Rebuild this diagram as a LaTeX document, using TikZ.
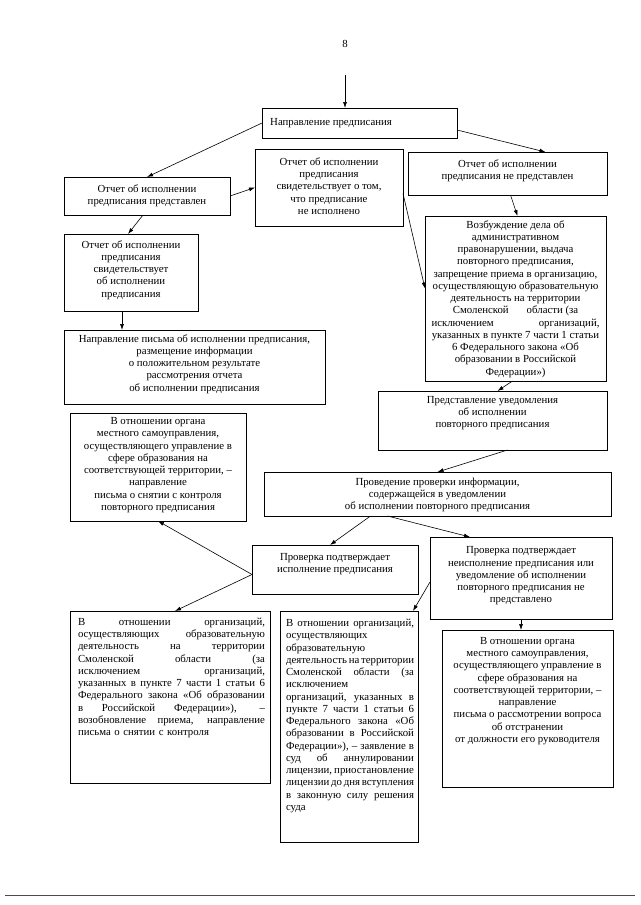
\documentclass[tikz,border=0pt]{standalone}
\usepackage{fontspec}
\setmainfont{Liberation Serif}
\usetikzlibrary{arrows.meta}
\setlength{\parindent}{0pt}
\newcommand{\jl}[2]{{\spaceskip=0pt\xspaceskip=0pt\makebox[#1][s]{#2}}}
\begin{document}
\begin{tikzpicture}[x=1pt,y=-1pt,
  box/.style={draw, line width=0.7pt, inner sep=0pt, outer sep=0pt, anchor=north west},
  txt/.style={inner sep=0pt, font=\fontsize{10.8}{12.25}\selectfont, align=center},
  arr/.style={line width=0.6pt, -{Latex[length=6pt,width=4pt]}}]
\fill[white] (0,0) rectangle (640,905);
\useasboundingbox (0,0) rectangle (640,905);

\node[txt] (pg) at (345,44) {8};

% boxes
\node[box, minimum width=195pt, minimum height=30pt] (A) at (262,108) {};
\node[box, minimum width=166pt, minimum height=38pt] (B) at (64,177) {};
\node[box, minimum width=148pt, minimum height=77pt] (C) at (255,149) {};
\node[box, minimum width=199pt, minimum height=43pt] (D) at (408,152) {};
\node[box, minimum width=134pt, minimum height=77pt] (E) at (64,234) {};
\node[box, minimum width=261pt, minimum height=74pt] (F) at (64,330) {};
\node[box, minimum width=181pt, minimum height=165pt] (G) at (425,216) {};
\node[box, minimum width=176pt, minimum height=108pt] (E2) at (70,413) {};
\node[box, minimum width=229pt, minimum height=59pt] (H) at (378,391) {};
\node[box, minimum width=347pt, minimum height=44pt] (I) at (264,472) {};
\node[box, minimum width=166pt, minimum height=49pt] (J) at (252,545) {};
\node[box, minimum width=182pt, minimum height=82pt] (K) at (430,537) {};
\node[box, minimum width=200pt, minimum height=172pt] (L) at (70,611) {};
\node[box, minimum width=138pt, minimum height=231pt] (M) at (280,611) {};
\node[box, minimum width=171pt, minimum height=157pt] (N) at (442,630) {};

% texts
\node[txt, anchor=west] (At) at (270,123) {Направление предписания};
\node[txt] (Bt) at (147,196) {Отчет об исполнении\\предписания представлен};
\node[txt] (Ct) at (329,186) {Отчет об исполнении\\предписания\\свидетельствует о том,\\что предписание\\не исполнено};
\node[txt] (Dt) at (507.5,171) {Отчет об исполнении\\предписания не представлен};
\node[txt] (Et) at (131,270) {Отчет об исполнении\\предписания\\свидетельствует\\об исполнении\\предписания};
\node[txt] (Ft) at (194.5,364) {Направление письма об исполнении предписания,\\размещение информации\\о положительном результате\\рассмотрения отчета\\об исполнении предписания};
\node[txt] (Gt) at (515.5,299) {Возбуждение дела об\\административном\\правонарушении, выдача\\повторного предписания,\\запрещение приема в организацию,\\осуществляющую образовательную\\деятельность на территории\\Смоленской\hspace{18pt}области (за\\исключением\hspace{45pt}организаций,\\указанных в пункте 7 части 1 статьи\\6 Федерального закона «Об\\образовании в Российской\\Федерации»)};
\node[txt] (E2t) at (158,465) {В отношении органа\\местного самоуправления,\\осуществляющего управление в\\сфере образования на\\соответствующей территории, –\\направление\\письма о снятии с контроля\\повторного предписания};
\node[txt] (Ht) at (492.5,413) {Представление уведомления\\об исполнении\\повторного предписания};
\node[txt] (It) at (437.5,495) {Проведение проверки информации,\\содержащейся в уведомлении\\об исполнении повторного предписания};
\node[txt] (Jt) at (335,564) {Проверка подтверждает\\исполнение предписания};
\node[txt] (Kt) at (521,576) {Проверка подтверждает\\неисполнение предписания или\\уведомление об исполнении\\повторного предписания не\\представлено};
\node[txt, align=left, text width=187pt] (Lt) at (171.5,678) {%
\jl{187pt}{В отношении организаций,}\\
\jl{187pt}{осуществляющих образовательную}\\
\jl{187pt}{деятельность на территории}\\
\jl{187pt}{Смоленской области (за}\\
\jl{187pt}{исключением организаций,}\\
\jl{187pt}{указанных в пункте 7 части 1 статьи 6}\\
\jl{187pt}{Федерального закона «Об образовании}\\
\jl{187pt}{в Российской Федерации»), –}\\
\jl{187pt}{возобновление приема, направление}\\
письма о снятии с контроля};
\node[txt, align=left, text width=128pt] (Mt) at (350,716) {%
\jl{128pt}{В отношении организаций,}\\
осуществляющих\\
образовательную\\
\jl{128pt}{деятельность на территории}\\
\jl{128pt}{Смоленской области (за}\\
исключением\\
\jl{128pt}{организаций, указанных в}\\
\jl{128pt}{пункте 7 части 1 статьи 6}\\
\jl{128pt}{Федерального закона «Об}\\
\jl{128pt}{образовании в Российской}\\
\jl{128pt}{Федерации»), – заявление в}\\
\jl{128pt}{суд об аннулировании}\\
\jl{128pt}{лицензии, приостановление}\\
\jl{128pt}{лицензии до дня вступления}\\
\jl{128pt}{в законную силу решения}\\
суда};
\node[txt] (Nt) at (527.5,691) {В отношении органа\\местного самоуправления,\\осуществляющего управление в\\сфере образования на\\соответствующей территории, –\\направление\\письма о рассмотрении вопроса\\об отстранении\\от должности его руководителя};

% connectors
\coordinate (S) at (345,75);
\draw[arr] (S) -- (S |- A.north);
\draw[arr] (A.west) -- (B.north);
\draw[arr] ([yshift=-7pt]A.east) -- ([xshift=38pt]D.north);
\draw[arr] (B.east) -- (C.west);
\draw[arr] ([xshift=-4pt]B.south) -- ([xshift=-3pt]E.north);
\coordinate (e1) at ([xshift=-9pt]E.south);
\draw[arr] (e1) -- (e1 |- F.north);
\draw[arr] ([yshift=-6pt]C.east) -- ([yshift=10pt]G.west);
\draw[arr] ([xshift=3pt]D.south) -- ([xshift=2pt]G.north);
\draw[arr] ([xshift=-3pt]G.south) -- ([xshift=5pt]H.north);
\draw[arr] ([xshift=15pt]H.south) -- (I.north);
\draw[arr] ([xshift=-67pt]I.south) -- ([xshift=-5pt]J.north);
\draw[arr] ([xshift=-50pt]I.south) -- ([xshift=-51pt]K.north);
\draw[arr] ([yshift=-5pt]J.west) -- (E2.south);
\draw[arr] ([yshift=-5pt]J.west) -- ([xshift=5pt]L.north);
\draw[arr] ([yshift=-4pt]K.west) -- ([xshift=-5pt]M.north east);
\draw[arr] (K.south) -- (K.south |- N.north);

% footer rule
\coordinate (f1) at (5,895);
\coordinate (f2) at (635,895);
\draw[line width=0.8pt, black!70] (f1) -- (f2);
\end{tikzpicture}
\end{document}
